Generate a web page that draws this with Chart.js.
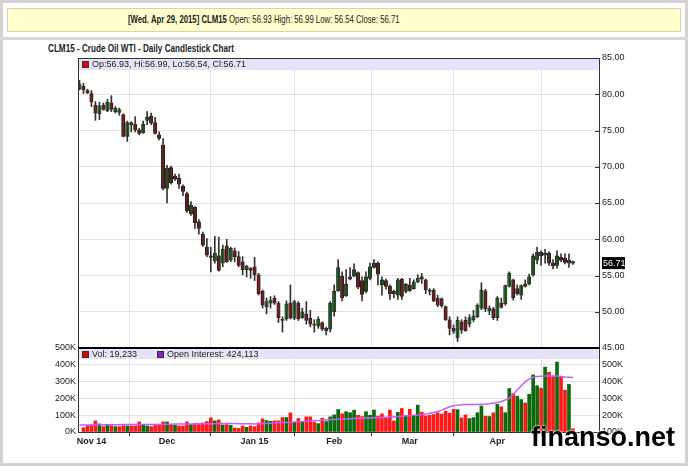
<!DOCTYPE html>
<html lang="en">
  <head>
    <meta charset="UTF-8" />
    <title>CLM15 - Crude Oil WTI - Daily Candlestick Chart</title>
    <style>
      body { margin: 0; background: #fff; font-family: "Liberation Sans", Arial, sans-serif; color: #222; }
      .frame { position: absolute; left: 0; top: 0; width: 688px; height: 466px; box-sizing: border-box; border: 3px solid #d2d2d2; }
      .sep { position: absolute; left: 0; top: 37px; width: 688px; height: 3px; background: #d8d8d8; }
      .banner { position: absolute; left: 7px; top: 8px; width: 674px; height: 24px; box-sizing: border-box; background: #ffffcc; border: 1px solid #d4d4b4; }
      .banner span { position: absolute; left: 120px; top: 5px; font-size: 10.5px; line-height: 11px; white-space: nowrap; transform: scaleX(0.74); transform-origin: left top; }
      .title { position: absolute; left: 48px; top: 43px; font-size: 10.5px; line-height: 11px; font-weight: bold; white-space: nowrap; transform: scaleX(0.775); transform-origin: left top; }
      .mark { position: absolute; left: 531px; top: 424px; font: bold 27px/27px "Liberation Sans", Arial, sans-serif; color: #000; text-shadow: 0 0 2px #fff, 0 0 2px #fff; }
      canvas { position: absolute; left: 0; top: 0; }
    </style>
  </head>
  <body>
    <div class="frame"></div>
    <div class="sep"></div>
    <div class="banner"><span id="banner"></span></div>
    <div class="title">CLM15 - Crude Oil WTI - Daily Candlestick Chart</div>
    <canvas id="priceChart" width="688" height="466"></canvas>
    <canvas id="volChart" width="688" height="466"></canvas>
    <div class="mark">finanso.net</div>

    <script src="https://cdn.jsdelivr.net/npm/chart.js"></script>

    <script>
      // daily bars, Oct 29 2014 .. Apr 29 2015 (index = trading day)
      const opens = [
        80.7, 81.1, 80.5, 80.1, 78.5, 77.3, 78.5, 77.7, 78.8, 77.6, 77.5, 77.2, 74.2, 76.1, 75.9, 75.1, 74.7, 76.4, 77.0, 76.1, 74.4, 73.0,
        67.0, 69.9, 68.7, 68.4, 67.3, 66.3, 63.5, 64.4, 62.4, 60.7, 58.9, 57.7, 57.0, 57.7, 56.7, 59.1, 57.1, 58.4, 57.6, 56.9, 55.8, 56.0,
        56.2, 55.1, 52.8, 50.7, 51.2, 51.9, 51.2, 49.0, 49.0, 51.2, 49.1, 51.2, 49.2, 49.7, 49.1, 48.3, 48.0, 48.5, 47.4, 47.6,
        50.0, 52.9, 54.9, 52.2, 54.5, 54.9, 55.4, 54.3, 52.8, 54.6, 56.1, 56.7, 53.7, 54.3, 53.5, 52.8, 52.3, 54.5, 52.8,
        53.7, 53.2, 54.1, 54.8, 54.4, 53.0, 53.0, 51.9, 51.8, 50.7, 48.9, 47.7, 46.4, 48.6, 48.8, 48.3, 48.9, 49.3, 50.5, 52.9, 50.1, 50.4,
        49.2, 51.2, 51.1, 53.5, 54.4, 53.2, 52.3, 53.8, 53.8, 55.1, 57.1, 58.2, 57.8, 58.1, 56.7, 56.4, 57.5, 57.4, 56.7, 56.93
      ];
      const highs = [
        81.9, 81.5, 80.7, 80.5, 79.0, 78.9, 78.8, 79.3, 79.8, 78.3, 78.1, 77.3, 76.3, 76.2, 76.9, 75.3, 76.3, 77.6, 77.4, 76.8, 74.8, 73.9,
        70.2, 70.1, 69.0, 69.0, 67.5, 66.5, 65.2, 64.5, 62.7, 61.0, 60.1, 58.9, 60.4, 60.3, 59.2, 60.0, 58.9, 58.8, 58.3, 57.6, 56.4, 56.1,
        57.5, 55.3, 53.0, 51.9, 52.1, 52.2, 51.4, 49.3, 51.5, 53.7, 51.6, 51.4, 50.5, 51.4, 50.2, 48.9, 49.3, 48.6, 47.9, 51.4,
        53.7, 57.2, 55.5, 55.8, 56.1, 56.6, 55.5, 54.8, 55.5, 56.7, 57.2, 56.9, 54.8, 54.5, 53.7, 53.0, 54.6, 54.6, 53.9,
        54.6, 54.4, 55.1, 55.3, 54.5, 53.2, 53.2, 52.3, 51.9, 50.8, 49.3, 48.2, 49.3, 48.9, 49.3, 49.6, 50.2, 51.1, 54.0, 53.1, 50.8, 50.6,
        52.1, 51.9, 53.7, 55.5, 54.5, 53.7, 53.7, 54.4, 55.2, 58.0, 58.9, 58.4, 58.6, 58.3, 57.2, 58.4, 58.0, 58.0, 58.0, 56.99
      ];
      const lows = [
        80.6, 80.1, 80.1, 78.3, 76.4, 76.5, 77.8, 77.6, 77.6, 77.4, 77.1, 74.1, 73.5, 74.8, 74.8, 74.4, 74.6, 75.8, 75.8, 74.5, 73.7, 66.8,
        65.0, 67.6, 68.1, 67.0, 66.0, 63.7, 63.3, 61.5, 60.7, 59.0, 57.6, 55.5, 56.7, 55.6, 56.2, 56.8, 56.9, 56.9, 56.2, 55.1, 54.8, 54.6,
        54.3, 52.3, 50.5, 49.7, 50.5, 51.0, 48.5, 47.2, 48.8, 49.0, 48.9, 48.8, 49.1, 48.3, 47.9, 47.2, 47.7, 47.4, 46.8, 47.2,
        49.4, 52.8, 51.5, 52.1, 54.4, 54.8, 53.2, 51.5, 52.6, 54.4, 56.0, 53.7, 52.3, 53.1, 51.7, 51.9, 51.7, 51.7, 52.6,
        52.8, 53.1, 54.0, 53.9, 52.5, 52.3, 51.4, 50.7, 50.6, 48.8, 46.8, 47.0, 45.9, 47.0, 47.3, 47.9, 48.6, 49.2, 50.3, 50.0, 49.6, 48.9,
        48.8, 50.5, 50.9, 53.4, 51.6, 52.3, 51.7, 53.4, 53.7, 54.9, 56.6, 56.4, 56.7, 56.4, 55.9, 56.0, 56.9, 56.6, 56.1, 56.54
      ];
      const closes = [
        81.4, 80.6, 80.2, 78.9, 77.4, 78.4, 77.9, 78.9, 77.9, 78.1, 77.9, 74.2, 76.1, 75.8, 75.1, 74.6, 75.9, 76.8, 76.0, 74.6, 73.9, 67.0,
        69.8, 67.8, 68.3, 67.6, 66.6, 63.9, 64.7, 62.3, 61.5, 59.2, 57.8, 57.5, 58.1, 55.7, 58.6, 56.9, 58.75, 57.6, 56.4, 55.8, 56.3, 55.7,
        55.1, 52.5, 50.9, 51.4, 51.6, 51.2, 49.2, 48.8, 51.1, 49.1, 51.4, 49.0, 50.0, 48.8, 48.3, 48.15, 49.0, 47.6, 47.7, 51.2,
        52.8, 56.1, 51.9, 53.8, 54.8, 55.8, 53.4, 52.4, 54.8, 56.2, 56.7, 55.2, 54.4, 53.5, 52.5, 52.45, 54.4, 52.1, 53.8,
        52.9, 54.1, 54.6, 54.5, 53.0, 52.8, 51.5, 50.9, 50.8, 48.9, 47.7, 47.3, 48.8, 47.5, 47.4, 49.2, 49.4, 50.9, 53.0, 50.4, 50.5, 49.2,
        51.9, 50.6, 53.6, 55.3, 51.9, 52.5, 53.6, 53.5, 54.8, 57.7, 58.2, 57.7, 58.1, 56.7, 56.35, 57.7, 57.1, 56.8, 57.1, 56.71
      ];
      // volume and open interest, thousands of contracts
      const volumes = [
        null, 26, 38, 42, 66, 48, 32, 46, 38, 32, 32, 38, 36, 36, 36, 60, 42, 36, 32, 42, 40, 60,
        60, 40, 40, 36, 36, 60, 44, 52, 48, 54, 62, 84, 66, 72, 42, 44, 40, 24, 22, 36, 28, 36,
        32, 54, 78, 68, 64, 66, 66, 86, 86, 114, 58, 80, 62, 90, 90, 58, 50, 82, 62, 90,
        102, 134, 108, 121, 115, 130, 100, 92, 121, 100, 131, 95, 108, 85, 131, 66, 117, 140, 98,
        135, 98, 160, 118, 96, 100, 104, 114, 106, 124, 112, 135, 133, 84, 102, 80, 86, 115, 155, 94, 92, 114,
        165, 150, 115, 259, 230, 213, 193, 173, 225, 340, 275, 261, 386, 356, 330, 416, 330, 249, 283, 19.233
      ];
      const openInterest = [
        141, 141, 142, 142, 142, 142, 143, 143, 143, 143, 143, 144, 144, 144, 144, 144, 145, 145, 145, 145, 145, 146,
        146, 146, 147, 147, 147, 148, 148, 148, 148, 149, 149, 149, 149, 150, 150, 150, 150, 150, 149, 149, 149, 149,
        148, 149, 150, 151, 152, 153, 155, 156, 157, 158, 160, 161, 162, 164, 165, 167, 168, 170, 172, 174,
        175, 176, 177, 178, 179, 180, 181, 182, 183, 184, 185, 186, 187, 188, 189, 190, 192, 194, 196,
        197, 199, 201, 204, 207, 211, 216, 222, 230, 240, 250, 256, 260, 262, 263, 263, 264, 264, 265, 266, 268, 271,
        276, 282, 290, 300, 325, 350, 375, 398, 415, 426, 430, 432, 433, 434, 434, 433, 431, 428, 426, 424.113
      ];
      const monthTicks = [3, 22, 44, 64, 83, 105];
      const monthLabels = ["Nov 14", "Dec", "Jan 15", "Feb", "Mar", "Apr"];
      const lastDate = "Wed. Apr 29, 2015";
      const symbol = "CLM15";

      const last = opens.length - 1;
      const f2 = (v) => v.toFixed(2);
      document.getElementById("banner").innerHTML =
        "<b>[" + lastDate + "] " + symbol + "</b> Open: " + f2(opens[last]) + " High: " + f2(highs[last]) +
        " Low: " + f2(lows[last]) + " Close: " + f2(closes[last]);

      const FONT = '"Liberation Sans", Arial, sans-serif';
      Chart.defaults.font.family = FONT;
      Chart.defaults.font.size = 9;
      Chart.defaults.color = "#222";

      const xMin = -0.38, xMax = 130.8;
      const GRID = "#e2e2e2";
      const LAV = "#e4e4f7";

      const up = opens.map((o, i) => closes[i] >= o);
      const volUp = closes.map((c, i) => i === 0 || c >= closes[i - 1]);

      function monthAxis(scale) {
        scale.ticks = monthTicks.map((v) => ({ value: v }));
      }

      const pricePlugin = {
        id: "priceDeco",
        beforeDatasetsDraw(chart) {
          const { ctx, chartArea: a } = chart;
          ctx.save();
          ctx.fillStyle = LAV;
          ctx.fillRect(a.left + 1, a.top + 1, a.width - 2, 11);
          ctx.fillStyle = "#e00000";
          ctx.fillRect(a.left + 4, a.top + 3, 6, 6);
          ctx.strokeStyle = "#333";
          ctx.strokeRect(a.left + 4.5, a.top + 3.5, 6, 6);
          ctx.fillStyle = "#222";
          ctx.font = "9px " + FONT;
          ctx.textBaseline = "middle";
          ctx.fillText("Op:" + f2(opens[last]) + ", Hi:" + f2(highs[last]) + ", Lo:" + f2(lows[last]) + ", Cl:" + f2(closes[last]), a.left + 14, a.top + 7);
          ctx.restore();
        },
        afterDraw(chart) {
          const { ctx, chartArea: a, scales } = chart;
          ctx.save();
          ctx.strokeStyle = "#333";
          ctx.lineWidth = 1;
          ctx.strokeRect(a.left + 0.5, a.top + 0.5, a.width - 1, a.height);
          ctx.beginPath();
          scales.y.ticks.forEach((t) => {
            const y = Math.round(scales.y.getPixelForValue(t.value)) + 0.5;
            ctx.moveTo(a.right - 5, y);
            ctx.lineTo(a.right, y);
          });
          ctx.stroke();
          // last close marker
          const y = scales.y.getPixelForValue(closes[last]);
          ctx.fillStyle = "#000";
          ctx.fillRect(a.right + 2, y - 6, 23, 12);
          ctx.fillStyle = "#fff";
          ctx.font = "9px " + FONT;
          ctx.textBaseline = "middle";
          ctx.fillText(f2(closes[last]), a.right + 3, y + 0.5);
          ctx.restore();
        },
      };

      new Chart(document.getElementById("priceChart"), {
        type: "bar",
        data: {
          datasets: [
            {
              data: highs.map((h, i) => ({ x: i, y: [lows[i], h] })),
              backgroundColor: "#333",
              barThickness: 1,
              grouped: false,
            },
            {
              data: opens.map((o, i) => ({ x: i, y: [o, closes[i]] })),
              backgroundColor: up.map((u) => (u ? "#14b014" : "#c40000")),
              borderColor: "#1a1a1a",
              borderWidth: 0.8,
              borderSkipped: false,
              barThickness: 3.4,
              grouped: false,
            },
          ],
        },
        options: {
          responsive: false,
          animation: false,
          layout: { padding: { left: 78, top: 58, right: 0, bottom: 118 } },
          plugins: { legend: { display: false }, tooltip: { enabled: false } },
          scales: {
            x: {
              type: "linear",
              min: xMin,
              max: xMax,
              offset: false,
              afterBuildTicks: monthAxis,
              afterFit: (s) => { s.height = 0; },
              ticks: { display: false },
              grid: { color: GRID, drawTicks: false },
              border: { display: false },
            },
            y: {
              position: "right",
              min: 45,
              max: 85,
              afterFit: (s) => { s.width = 88; },
              ticks: { stepSize: 5, padding: 2, callback: (v) => v.toFixed(2), color: "#222" },
              grid: { color: GRID, drawTicks: false },
              border: { display: false },
            },
          },
        },
        plugins: [pricePlugin],
      });

      const volPlugin = {
        id: "volDeco",
        beforeDatasetsDraw(chart) {
          const { ctx, chartArea: a } = chart;
          ctx.save();
          ctx.fillStyle = LAV;
          ctx.fillRect(a.left + 1, a.top + 1, a.width - 2, 10);
          ctx.strokeStyle = "#333";
          ctx.fillStyle = "#e00000";
          ctx.fillRect(a.left + 4, a.top + 3, 6, 6);
          ctx.strokeRect(a.left + 4.5, a.top + 3.5, 6, 6);
          ctx.fillStyle = "#8a1fd0";
          ctx.fillRect(a.left + 79, a.top + 3, 6, 6);
          ctx.strokeRect(a.left + 79.5, a.top + 3.5, 6, 6);
          ctx.fillStyle = "#222";
          ctx.font = "9px " + FONT;
          ctx.textBaseline = "middle";
          const fmt = (k) => Math.round(k * 1000).toLocaleString("en-US");
          ctx.fillText("Vol: " + fmt(volumes[last]), a.left + 14, a.top + 6.5);
          ctx.fillText("Open Interest: " + fmt(openInterest[last]), a.left + 89, a.top + 6.5);
          ctx.restore();
        },
        afterDraw(chart) {
          const { ctx, chartArea: a } = chart;
          ctx.save();
          ctx.fillStyle = "#000";
          ctx.fillRect(a.left, a.top - 1, a.width, 2);
          ctx.strokeStyle = "#333";
          ctx.beginPath();
          ctx.moveTo(a.left + 0.5, a.top);
          ctx.lineTo(a.left + 0.5, a.bottom);
          ctx.moveTo(a.right - 0.5, a.top);
          ctx.lineTo(a.right - 0.5, a.bottom);
          ctx.moveTo(a.left, a.bottom + 0.5);
          ctx.lineTo(a.right, a.bottom + 0.5);
          ctx.stroke();
          ctx.restore();
        },
      };

      new Chart(document.getElementById("volChart"), {
        type: "bar",
        data: {
          datasets: [
            {
              type: "line",
              data: openInterest.map((v, i) => ({ x: i, y: v })),
              yAxisID: "yoi",
              borderColor: "#c060f8",
              borderWidth: 1.5,
              pointRadius: 0,
              tension: 0,
            },
            {
              data: volumes.map((v, i) => ({ x: i, y: v })),
              yAxisID: "yv",
              backgroundColor: volUp.map((u) => (u ? "#0b6a0b" : "#ff1a1a")),
              barThickness: 3,
              grouped: false,
            },
          ],
        },
        options: {
          responsive: false,
          animation: false,
          layout: { padding: { left: 0, top: 348, right: 0, bottom: 0 } },
          plugins: { legend: { display: false }, tooltip: { enabled: false } },
          scales: {
            x: {
              type: "linear",
              min: xMin,
              max: xMax,
              offset: false,
              afterBuildTicks: monthAxis,
              afterFit: (s) => { s.height = 34; },
              ticks: {
                autoSkip: false,
                maxRotation: 0,
                padding: 0,
                font: { weight: "bold", size: 9 },
                callback: (v, i) => monthLabels[i],
              },
              grid: { color: GRID, tickColor: "#333", tickLength: 4 },
              border: { display: false },
            },
            yv: {
              position: "left",
              min: 0,
              max: 500,
              afterFit: (s) => { s.width = 78; },
              ticks: { stepSize: 100, padding: 2, callback: (v) => v + "K" },
              grid: { color: GRID, drawTicks: false },
              border: { display: false },
            },
            yoi: {
              position: "right",
              min: 100,
              max: 600,
              afterFit: (s) => { s.width = 88; },
              ticks: { stepSize: 100, padding: 2, callback: (v) => (v >= 600 ? "" : v + "K") },
              grid: { display: false, drawTicks: false },
              border: { display: false },
            },
          },
        },
        plugins: [volPlugin],
      });
    </script>
  </body>
</html>
